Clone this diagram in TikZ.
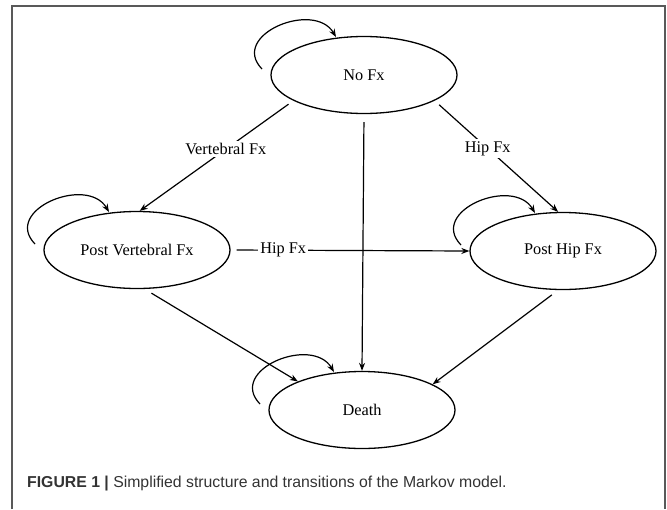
\documentclass[tikz,border=0pt]{standalone}
\usepackage{fontspec}
\setmainfont{Liberation Serif}
\newfontfamily\capfont{Liberation Sans}
\usetikzlibrary{shapes.geometric,arrows.meta,calc}
\begin{document}
\begin{tikzpicture}[x=1pt,y=-1pt,
  state/.style={draw, ellipse, line width=1.3pt, minimum width=186pt, minimum height=77pt, inner sep=0pt,
    font=\fontsize{16.3}{19}\selectfont},
  trans/.style={draw, line width=1.2pt, -{Stealth[length=8pt,width=6pt]}},
  lab/.style={fill=white, inner sep=2pt, font=\fontsize{16.3}{19}\selectfont},
  frame/.style={draw=black!65, line width=1.5pt}]
\useasboundingbox (0,0) rectangle (667,509);
\draw[frame] (12,509) -- (12,6) -- (665,6) -- (665,509);

\node[state] (nofx) at (364,75) {No Fx};
\node[state] (pv) at (137,250) {Post Vertebral Fx};
\node[state] (ph) at (563,251) {Post Hip Fx};
\node[state] (death) at (362,410) {Death};

% transitions
\draw[trans, shorten <=6pt] (nofx.200) -- node[lab, pos=0.44] {Vertebral Fx} (pv.86);
\draw[trans, shorten <=6pt] (nofx.340) -- node[lab, pos=0.43] {Hip Fx} (ph.97);
\draw[trans, shorten <=8pt] (nofx.south) -- (death.north);
\draw[trans, shorten <=6pt] (pv.east) -- node[lab, pos=0.22] {Hip Fx} (ph.west);
\draw[trans, shorten <=8pt] (pv.281) -- (death.156);
\draw[trans, shorten <=8pt] (ph.263) -- (death.20);

% self loops
\foreach \n in {nofx,pv,ph,death}{
  \draw[trans] ($(\n)+(-102,-6)$) .. controls ($(\n)+(-135,-40)$) and ($(\n)+(-50,-75)$) .. ($(\n)+(-28,-38)$);
}

\node[anchor=west, inner sep=0pt, text=black!80, font=\capfont\fontsize{15.8}{18}\selectfont] (cap) at (27,484)
  {\textbf{FIGURE 1 |} Simplified structure and transitions of the Markov model.};
\end{tikzpicture}
\end{document}
